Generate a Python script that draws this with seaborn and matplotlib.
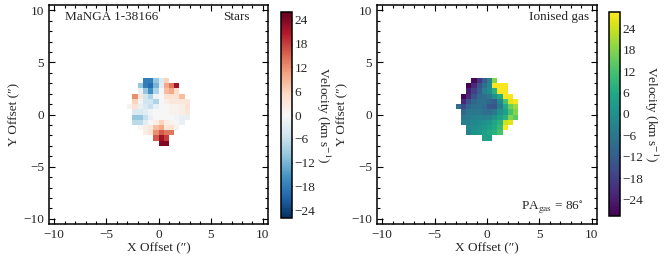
import numpy as np
import matplotlib
matplotlib.use("Agg")
import matplotlib.pyplot as plt
from matplotlib.ticker import MultipleLocator
import seaborn as sns

n = np.nan
# Stellar velocity map (km/s), rows from top (y=+3.5") down, columns from x=-3.0" in 0.5" spaxels
stars_vel = [
    [n, n, n, -18, -18, -10, -4, 6, n, n, n, n, n],
    [n, n, -10, -18, -20, -12, -3, 10, 14, 22, n, n, n],
    [n, n, -2, -10, -16, -8, 0, 8, 10, 5, n, n, n],
    [n, 12, 3, -5, -8, -1, 0, 4, 4, 4, 8, n, n],
    [n, 6, -1, -5, -5, -8, 0, 2, 3, 3, 3, 3, n],
    [1, 4, -2, -4, -6, -2, 0, 0, 1, 1, 2, 4, n],
    [n, -4, -4, -3, -1, 0, 0, 0, 1, 1, 2, 3, n],
    [n, -10, -10, -6, -2, 0, 0, 0, 0, -1, -2, -2, n],
    [n, -7, -7, -3, 0, 2, 6, 2, 1, 0, -2, n, n],
    [n, n, 0, 2, 3, 8, 10, 3, 4, 1, n, n, n],
    [n, n, n, 2, 4, 12, 16, 14, 14, n, n, n, n],
    [n, n, n, n, n, 16, 22, 18, n, n, n, n, n],
    [n, n, n, n, n, n, 24, 24, n, n, n, n, n],
]
stars_x0, stars_y0 = -3.0, 3.5

# Ionised gas velocity map (km/s), columns from x=-3.5"
gas_vel = [
    [n, n, n, n, -27, -20, -12, -4, 18, n, n, n, n, n],
    [n, n, n, -30, -22, -14, -7, -2, 28, 28, 28, n, n, n],
    [n, n, n, -24, -18, -12, -4, -1, 8, 28, 28, n, n, n],
    [n, n, -28, -22, -14, -9, -8, -6, 0, 6, 28, 28, n, n],
    [n, n, -22, -14, -10, -8, -8, -10, -12, -2, 12, 26, 28, n],
    [n, -8, -16, -10, -8, -7, -9, -13, -13, -5, 6, 16, 20, n],
    [n, n, -10, -6, -6, -6, -7, -8, -6, 0, 4, 12, 18, n],
    [n, n, -6, -5, -4, -3, -4, -3, 0, 4, 8, 18, 14, n],
    [n, n, -4, -4, -2, -1, 0, 2, 5, 8, 24, 26, n, n],
    [n, n, n, -2, -1, 0, 2, 4, 6, 10, 28, n, n, n],
    [n, n, n, -3, 0, 2, 4, 6, 8, 12, n, n, n, n],
    [n, n, n, n, n, n, 4, 4, n, n, n, n, n, n],
]
gas_x0, gas_y0 = -3.5, 3.5
spaxel = 0.5

galaxy_name = "MaNGA 1-38166"
pa_gas = 86
cbar_ticks = [-24, -18, -12, -6, 0, 6, 12, 18, 24]
axis_ticks = [-10, -5, 0, 5, 10]

sns.set_style("ticks")
plt.rcParams["font.family"] = ["Liberation Serif", "DejaVu Serif"]
plt.rcParams["mathtext.fontset"] = "stix"
plt.rcParams["font.size"] = 9

W, H = 664, 265
fig = plt.figure(figsize=(W / 100, H / 100), dpi=100)

def fax(x0, y0, x1, y1):
    return fig.add_axes([x0 / W, (H - y1) / H, (x1 - x0) / W, (y1 - y0) / H])

ax1 = fax(49, 5, 268, 224)
ax2 = fax(377, 5, 597, 224)
cax1 = fax(281, 12, 292, 218)
cax2 = fax(609, 12, 620, 216)

def draw_map(ax, data, x0, y0, cmap, vlim):
    arr = np.array(data, dtype=float)
    nr, nc = arr.shape
    xe = x0 + spaxel * np.arange(nc + 1)
    ye = y0 - spaxel * np.arange(nr + 1)
    m = ax.pcolormesh(xe, ye, arr, cmap=cmap, vmin=-vlim, vmax=vlim)
    ax.set_xlim(-10.5, 10.5)
    ax.set_ylim(-10.5, 10.5)
    ax.set_xticks(axis_ticks)
    ax.set_yticks(axis_ticks)
    ax.xaxis.set_minor_locator(MultipleLocator(1))
    ax.yaxis.set_minor_locator(MultipleLocator(1))
    ax.tick_params(which="both", direction="in", top=True, right=True,
                   labelsize=9.5, color="black", width=0.8)
    ax.tick_params(which="major", length=4.5)
    ax.tick_params(which="minor", length=2)
    for s in ax.spines.values():
        s.set_color("black")
        s.set_linewidth(1.1)
    ax.set_xlabel("X Offset (\u2033)", fontsize=9.5, labelpad=1)
    ax.set_ylabel("Y Offset (\u2033)", fontsize=9.5, labelpad=2)
    return m

m1 = draw_map(ax1, stars_vel, stars_x0, stars_y0,
              sns.color_palette("RdBu_r", as_cmap=True), 26)
m2 = draw_map(ax2, gas_vel, gas_x0, gas_y0,
              sns.color_palette("viridis", as_cmap=True), 28.5)

for m, cax in ((m1, cax1), (m2, cax2)):
    cb = fig.colorbar(m, cax=cax, ticks=cbar_ticks)
    cb.outline.set_edgecolor("black")
    cb.outline.set_linewidth(1.1)
    cax.tick_params(direction="in", length=3, labelsize=9.5, color="black", pad=2)
    cb.set_label(r"Velocity (km s$^{-1}$)", rotation=270, fontsize=9.5, labelpad=12)

ax1.text(0.073, 0.945, galaxy_name, transform=ax1.transAxes, fontsize=9.5,
         ha="left", va="center")
ax1.text(0.918, 0.945, "Stars", transform=ax1.transAxes, fontsize=9.5,
         ha="right", va="center")
ax2.text(0.965, 0.945, "Ionised gas", transform=ax2.transAxes, fontsize=9.5,
         ha="right", va="center")
ax2.text(0.94, 0.075, r"PA$_{\rm gas}$ = %d$^{\circ}$" % pa_gas,
         transform=ax2.transAxes, fontsize=9.5, ha="right", va="center")

fig.savefig("out.png", dpi=100)
